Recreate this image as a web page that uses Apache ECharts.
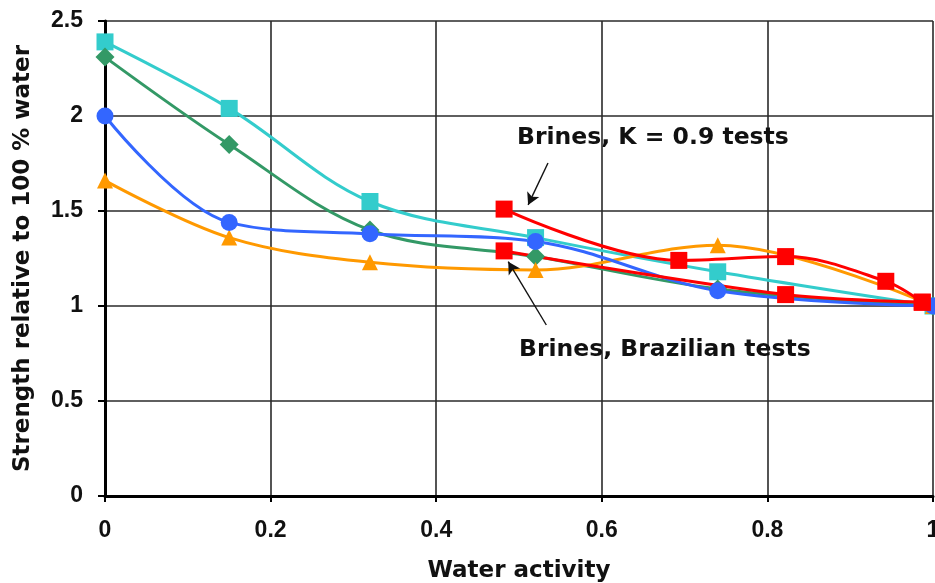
<!DOCTYPE html>
<html>
<head>
<meta charset="utf-8">
<title>Strength vs water activity</title>
<script src="https://cdn.jsdelivr.net/npm/echarts@6/dist/echarts.min.js"></script>
<style>
  html, body { margin: 0; padding: 0; background: #ffffff; }
  #chart { width: 935px; height: 583px; }
</style>
</head>
<body>
<div id="chart"></div>
<script>
// Water activity levels of the humidity tests
const waterActivity = [0, 0.15, 0.32, 0.52, 0.74, 1];

// Strength relative to the 100 % water condition
const seriesCyan   = [2.39, 2.04, 1.55, 1.36, 1.18, 1.0];
const seriesGreen  = [2.31, 1.85, 1.40, 1.26, 1.09, 1.0];
const seriesOrange = [1.66, 1.36, 1.23, 1.19, 1.32, 1.0];
const seriesBlue   = [2.00, 1.44, 1.38, 1.34, 1.08, 1.0];

// Brine tests use their own water activity levels
const brineK09X = [0.482, 0.693, 0.822, 0.943, 0.987];
const brineK09Y = [1.51, 1.24, 1.26, 1.13, 1.02];
const brineBrazilX = [0.482, 0.822, 0.987];
const brineBrazilY = [1.29, 1.06, 1.02];

// Axis ticks
const xTicks = [0, 0.2, 0.4, 0.6, 0.8, 1];
const yTicks = [0, 0.5, 1, 1.5, 2, 2.5];

// Annotation texts and the data points their arrows run between
const noteK09 = 'Brines, K = 0.9 tests';
const noteBrazil = 'Brines, Brazilian tests';
const arrowK09 = [[0.535, 1.753], [0.511, 1.532]];
const arrowBrazil = [[0.533, 0.90], [0.487, 1.233]];

const pairs = (xs, ys) => xs.map((x, i) => [x, ys[i]]);

const tickFont = {
  color: '#111',
  fontFamily: '"Liberation Sans", Arial, sans-serif',
  fontWeight: 'bold',
  fontSize: 23
};
const titleFont = {
  color: '#111',
  fontFamily: '"DejaVu Sans", sans-serif',
  fontWeight: 'bold',
  fontSize: 23
};

function lineSeries(name, data, color, symbol, size, extra) {
  return Object.assign({
    name: name,
    type: 'line',
    data: data,
    smooth: 0.35,
    symbol: symbol,
    symbolSize: size,
    showAllSymbol: true,
    clip: false,
    lineStyle: { color: color, width: 3 },
    itemStyle: { color: color, borderWidth: 0 },
    emphasis: { disabled: true },
    animation: false
  }, extra || {});
}

const arrowLine = (pts) => [{ coord: pts[0] }, { coord: pts[1] }];

const arrowStyle = {
  silent: true,
  symbol: ['none', 'arrow'],
  symbolSize: [10, 12],
  label: { show: false },
  lineStyle: { color: '#111', width: 1.4, type: 'solid' }
};

const chart = echarts.init(document.getElementById('chart'), null, { renderer: 'canvas' });

const option = {
  backgroundColor: '#ffffff',
  animation: false,
  grid: { left: 105, right: 2, top: 21, bottom: 87, containLabel: false, outerBoundsMode: 'none' },
  xAxis: {
    type: 'value',
    min: 0,
    max: 1,
    interval: 0.2,
    name: 'Water activity',
    nameLocation: 'middle',
    nameGap: 64,
    nameTextStyle: titleFont,
    axisLine: { show: true, onZero: false, lineStyle: { color: '#000', width: 3 } },
    axisTick: { show: true, length: 6, lineStyle: { color: '#000', width: 2 } },
    axisLabel: Object.assign({
      margin: 23,
      showMaxLabel: true,
      hideOverlap: false,
      formatter: (v) => {
        const t = xTicks.find((k) => Math.abs(k - v) < 1e-9);
        return t === undefined ? '' : String(t);
      }
    }, tickFont),
    splitLine: { show: true, lineStyle: { color: '#2a2a2a', width: 1.6 } }
  },
  yAxis: {
    type: 'value',
    min: 0,
    max: 2.5,
    interval: 0.5,
    name: 'Strength relative to 100 % water',
    nameLocation: 'middle',
    nameRotate: 90,
    nameGap: 70,
    nameTextStyle: titleFont,
    axisLine: { show: true, onZero: false, lineStyle: { color: '#000', width: 3 } },
    axisTick: { show: true, length: 7, lineStyle: { color: '#000', width: 2 } },
    axisLabel: Object.assign({
      margin: 22,
      formatter: (v) => {
        const t = yTicks.find((k) => Math.abs(k - v) < 1e-9);
        return t === undefined ? '' : String(t);
      }
    }, tickFont),
    splitLine: { show: true, lineStyle: { color: '#2a2a2a', width: 1.6 } }
  },
  series: [
    lineSeries('Cyan', pairs(waterActivity, seriesCyan), '#33CCCC', 'rect', 17),
    lineSeries('Green', pairs(waterActivity, seriesGreen), '#339966', 'diamond', 19),
    lineSeries('Orange', pairs(waterActivity, seriesOrange), '#FF9900', 'triangle', 16),
    lineSeries('Blue', pairs(waterActivity, seriesBlue), '#3366FF', 'circle', 17),
    lineSeries('Brines, Brazilian tests', pairs(brineBrazilX, brineBrazilY), '#FF0000', 'rect', 17, {
      markLine: Object.assign({ data: [arrowLine(arrowBrazil)] }, arrowStyle)
    }),
    lineSeries('Brines, K = 0.9 tests', pairs(brineK09X, brineK09Y), '#FF0000', 'rect', 17, {
      markLine: Object.assign({ data: [arrowLine(arrowK09)] }, arrowStyle)
    })
  ]
};

chart.setOption(option);

// Place the two annotation texts in data space
const noteFont = 'bold 23.5px "DejaVu Sans", sans-serif';
const p1 = chart.convertToPixel({ gridIndex: 0 }, [0.4976, 1.885]);
const p2 = chart.convertToPixel({ gridIndex: 0 }, [0.5, 0.77]);
chart.setOption({
  graphic: [
    {
      type: 'text', x: p1[0], y: p1[1], silent: true,
      style: { text: noteK09, font: noteFont, fill: '#111', verticalAlign: 'middle', align: 'left' }
    },
    {
      type: 'text', x: p2[0], y: p2[1], silent: true,
      style: { text: noteBrazil, font: noteFont, fill: '#111', verticalAlign: 'middle', align: 'left' }
    }
  ]
});
</script>
</body>
</html>
